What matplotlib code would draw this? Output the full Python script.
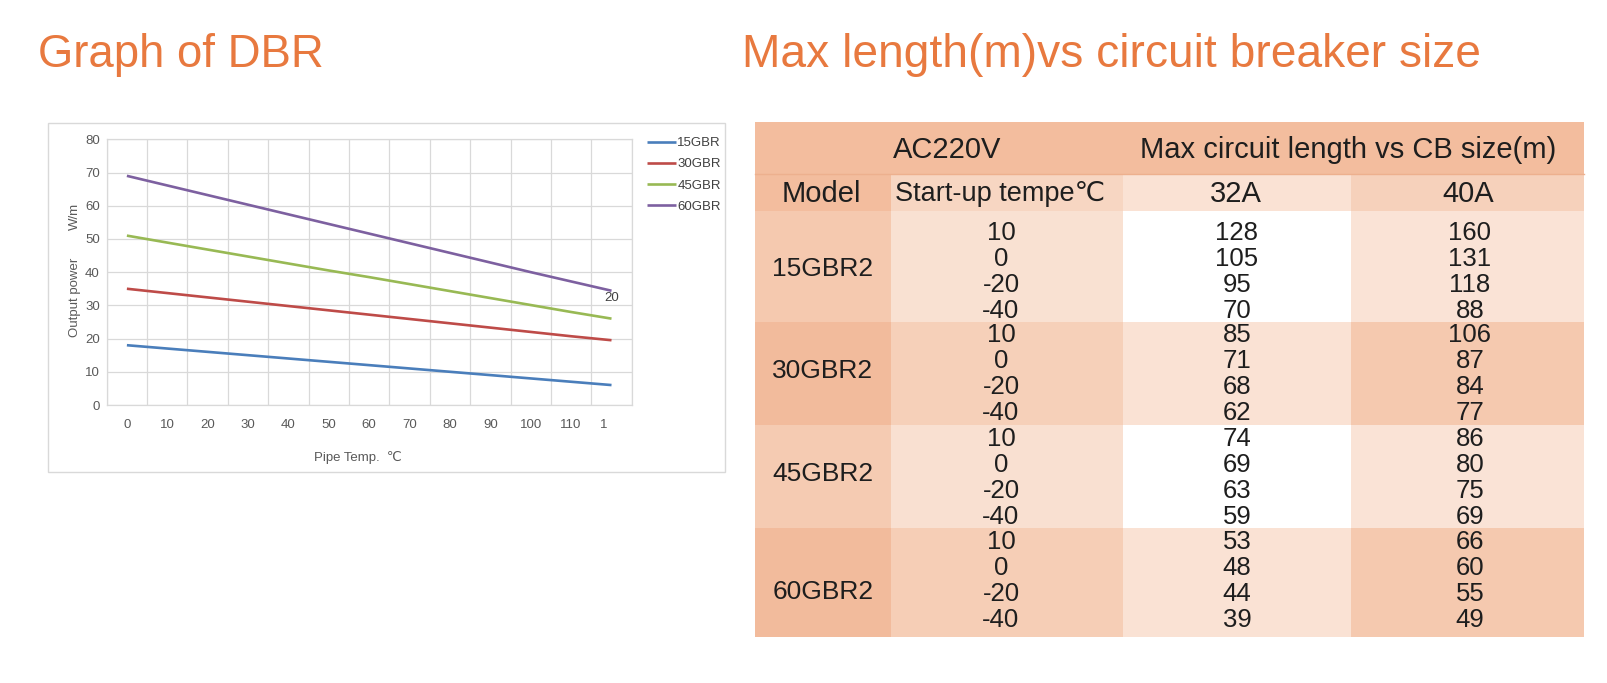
import matplotlib
matplotlib.use("Agg")
import matplotlib.pyplot as plt
from matplotlib.patches import Rectangle
from matplotlib import font_manager
from matplotlib.transforms import ScaledTranslation

# ---------------- data ----------------
x_labels = ['0', '10', '20', '30', '40', '50', '60', '70', '80', '90', '100', '110', '1']
series_names = ['15GBR', '30GBR', '45GBR', '60GBR']
gbr15 = [18.0, 17.0, 16.0, 15.0, 14.0, 13.0, 12.0, 11.0, 10.0, 9.0, 8.0, 7.0, 6.0]
gbr30 = [35.0, 33.7, 32.4, 31.1, 29.8, 28.5, 27.2, 25.9, 24.6, 23.3, 22.0, 20.7, 19.5]
gbr45 = [51.0, 48.9, 46.8, 44.7, 42.6, 40.5, 38.5, 36.4, 34.3, 32.2, 30.1, 28.0, 26.0]
gbr60 = [69.0, 66.1, 63.2, 60.3, 57.4, 54.5, 51.6, 48.7, 45.8, 42.9, 40.0, 37.2, 34.4]
y_ticks = [0, 10, 20, 30, 40, 50, 60, 70, 80]

models = ['15GBR2', '30GBR2', '45GBR2', '60GBR2']
start_temps = [10, 0, -20, -40]
len_32A = [[128, 105, 95, 70], [85, 71, 68, 62], [74, 69, 63, 59], [53, 48, 44, 39]]
len_40A = [[160, 131, 118, 88], [106, 87, 84, 77], [86, 80, 75, 69], [66, 60, 55, 49]]

# ---------------- styles ----------------
line_colors = ['#4A7EBB', '#BE4B48', '#98B954', '#7D60A0']
ORANGE = '#E8793F'
TXT = '#1E1E1E'

avail = {f.name for f in font_manager.fontManager.ttflist}
narrow = 'Liberation Sans Narrow' if 'Liberation Sans Narrow' in avail else 'Liberation Sans'
CHART_FONT = [narrow, 'DejaVu Sans']
TAB_FONT = ['Liberation Sans', 'DejaVu Sans']

W, H = 1608, 683
fig = plt.figure(figsize=(W / 100, H / 100), dpi=100)
fig.patch.set_facecolor('white')

bg = fig.add_axes([0, 0, 1, 1])
bg.set_xlim(0, W)
bg.set_ylim(H, 0)
bg.axis('off')

# titles
bg.text(38, 67, 'Graph of DBR', color=ORANGE, fontsize=32.8, family=TAB_FONT, va='baseline', ha='left')
bg.text(742, 67, 'Max length(m)vs circuit breaker size', color=ORANGE, fontsize=33.2,
        family=TAB_FONT, va='baseline', ha='left')

# chart frame
bg.add_patch(Rectangle((48, 123), 677, 349, facecolor='white', edgecolor='#D9D9D9', lw=1.0, zorder=0))

# ---------------- chart ----------------
L, R, T, B = 106.7, 631.7, 139.3, 405.0
ax = fig.add_axes([L / W, 1 - B / H, (R - L) / W, (B - T) / H])
xs = list(range(len(x_labels)))
for vals, name, c in zip([gbr15, gbr30, gbr45, gbr60], series_names, line_colors):
    ax.plot(xs, vals, color=c, lw=1.9, label=name, solid_capstyle='butt', zorder=3)

ax.set_xlim(-0.5, len(x_labels) - 0.5)
ax.set_ylim(0, 80)
ax.set_yticks(y_ticks)
ax.set_xticks(xs)
ax.set_xticklabels(x_labels)
ax.set_xticks([i + 0.5 for i in range(-1, len(x_labels))], minor=True)
ax.grid(False)
ax.xaxis.grid(True, which='minor', color='#D9D9D9', lw=0.9)
ax.yaxis.grid(True, which='major', color='#D9D9D9', lw=0.9)
ax.set_axisbelow(True)
for s in ax.spines.values():
    s.set_color('#D9D9D9')
    s.set_linewidth(0.9)
ax.tick_params(axis='both', which='both', length=0, labelcolor='#595959', labelsize=9.5)
ax.tick_params(axis='x', pad=10)
ax.tick_params(axis='y', pad=5)
for lab in ax.get_xticklabels() + ax.get_yticklabels():
    lab.set_family(CHART_FONT)
# the truncated "120" label shows only its first digit, left of centre
last = ax.get_xticklabels()[-1]
last.set_transform(last.get_transform() + ScaledTranslation(-8 / 100, 0, fig.dpi_scale_trans))
ax.text(12, 32.2, '20', color='#404040', fontsize=9.5, family=CHART_FONT, ha='center', va='center')

# axis titles
bg.text(358, 457, 'Pipe Temp.  \u2103', color='#595959', fontsize=9.5, family=CHART_FONT,
        ha='center', va='center')
bg.text(75, 216, 'W/m', color='#595959', fontsize=9.5, family=CHART_FONT, rotation=90,
        ha='center', va='center')
bg.text(75, 297, 'Output power', color='#595959', fontsize=9.5, family=CHART_FONT, rotation=90,
        ha='center', va='center')

leg = ax.legend(loc='upper left', bbox_to_anchor=(647 / W, 1 - 137 / H), bbox_transform=fig.transFigure,
                frameon=False, prop={'family': CHART_FONT, 'size': 9.5},
                handlelength=2.2, handletextpad=0.1, labelspacing=0.68, borderpad=0, borderaxespad=0)
for t in leg.get_texts():
    t.set_color('#404040')

# ---------------- table ----------------
col_x = [755, 891, 1123, 1351, 1584]
row1 = (122, 174)
row2 = (174, 211)
block_y = [211, 322, 425, 528, 637]

hdr = '#F3BD9E'
row2_cols = [hdr, '#F7D6C2', '#FAE2D4', '#F6D1BB']
block_cols = [
    ['#F5C9AF', '#F9E1D2', '#FFFFFF', '#FAE3D6'],
    ['#F2BB9C', '#F6D0B9', '#FAE2D4', '#F5C9AF'],
    ['#F5CBB2', '#F9E0D1', '#FFFFFF', '#FAE3D6'],
    ['#F2BB9C', '#F6CEB6', '#FAE2D4', '#F5C9AF'],
]

bg.add_patch(Rectangle((col_x[0], row1[0]), col_x[-1] - col_x[0], row1[1] - row1[0],
                       facecolor=hdr, edgecolor='none'))
bg.plot([col_x[0], col_x[-1]], [row1[1], row1[1]], color='#EDB08E', lw=1)
for j in range(4):
    bg.add_patch(Rectangle((col_x[j], row2[0]), col_x[j + 1] - col_x[j], row2[1] - row2[0],
                           facecolor=row2_cols[j], edgecolor='none'))
for b in range(4):
    for j in range(4):
        bg.add_patch(Rectangle((col_x[j], block_y[b]), col_x[j + 1] - col_x[j],
                               block_y[b + 1] - block_y[b], facecolor=block_cols[b][j], edgecolor='none'))

HS = 21
bg.text(947, 150, 'AC220V', fontsize=HS, family=TAB_FONT, color=TXT, ha='center', va='center')
bg.text(1348, 150, 'Max circuit length vs CB size(m)', fontsize=HS, family=TAB_FONT, color=TXT,
        ha='center', va='center')
bg.text(821, 194, 'Model', fontsize=HS, family=TAB_FONT, color=TXT, ha='center', va='center')
bg.text(1000, 194, 'Start-up tempe\u2103', fontsize=19.5, family=TAB_FONT, color=TXT, ha='center', va='center')
bg.text(1236, 194, '32A', fontsize=HS, family=TAB_FONT, color=TXT, ha='center', va='center')
bg.text(1468, 194, '40A', fontsize=HS, family=TAB_FONT, color=TXT, ha='center', va='center')

group_centers = [272, 374, 478, 581]
model_y = [269, 371, 474, 592]
step = 25.7
for b, m in enumerate(models):
    bg.text(823, model_y[b], m, fontsize=19, family=TAB_FONT, color=TXT, ha='center', va='center')
    for i in range(4):
        y = group_centers[b] + (i - 1.5) * step
        bg.text(1001, y, str(start_temps[i]), fontsize=18.5, family=TAB_FONT, color=TXT,
                ha='center', va='center')
        bg.text(1237, y, str(len_32A[b][i]), fontsize=18.5, family=TAB_FONT, color=TXT,
                ha='center', va='center')
        bg.text(1470, y, str(len_40A[b][i]), fontsize=18.5, family=TAB_FONT, color=TXT,
                ha='center', va='center')

fig.savefig('out.png', dpi=100, facecolor='white')
